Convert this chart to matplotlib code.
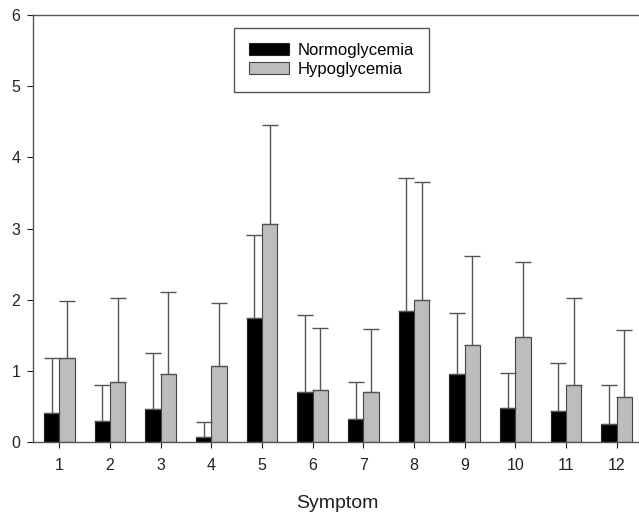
import matplotlib
matplotlib.use('Agg')
import matplotlib.pyplot as plt
import numpy as np

plt.rcParams['font.family'] = ['Liberation Sans', 'DejaVu Sans']

# data
symptoms = [1, 2, 3, 4, 5, 6, 7, 8, 9, 10, 11, 12]
normo = [0.41, 0.30, 0.47, 0.07, 1.74, 0.70, 0.33, 1.85, 0.96, 0.48, 0.44, 0.26]
normo_err = [0.77, 0.50, 0.78, 0.22, 1.17, 1.09, 0.52, 1.86, 0.86, 0.50, 0.68, 0.54]
hypo = [1.18, 0.84, 0.96, 1.07, 3.06, 0.74, 0.70, 2.00, 1.36, 1.48, 0.81, 0.63]
hypo_err = [0.81, 1.18, 1.15, 0.88, 1.39, 0.87, 0.89, 1.65, 1.26, 1.05, 1.22, 0.94]

x = np.array(symptoms)
w = 0.3

fig = plt.figure(figsize=(6.39, 5.13), dpi=100)
ax = fig.add_axes([33/639, 1 - 442.3/513, 609/639, 427.3/513])

ekw = dict(ecolor='#555555', elinewidth=1, capsize=6, capthick=1)
ax.bar(x - w/2, normo, w, color='black', edgecolor='#222222', linewidth=0.8,
       yerr=[np.zeros(len(x)), normo_err], error_kw=ekw, label='Normoglycemia', zorder=2)
ax.bar(x + w/2, hypo, w, color='#bdbdbd', edgecolor='#444444', linewidth=0.8,
       yerr=[np.zeros(len(x)), hypo_err], error_kw=ekw, label='Hypoglycemia', zorder=2)

ax.set_xlim(0.48, 12.5)
ax.set_ylim(0, 6)
ax.set_xticks(x)
ax.set_yticks(range(7))
ax.tick_params(labelsize=11.5, colors='#222222', length=4, width=0.8, direction='out')
ax.tick_params(axis='x', pad=7)
ax.tick_params(axis='y', pad=5)
for s in ax.spines.values():
    s.set_color('#555555')
    s.set_linewidth(1)
ax.spines['right'].set_visible(False)

ax.set_xlabel('Symptom', fontsize=14, color='#222222', labelpad=16)

leg = ax.legend(loc='upper left', bbox_to_anchor=(0.33, 0.97), borderaxespad=0,
                fontsize=12, fancybox=False, edgecolor='#555555', framealpha=1,
                handlelength=2.4, handleheight=0.7, handletextpad=0.5,
                labelspacing=0.25, borderpad=0.9)
leg.get_frame().set_linewidth(1)

plt.savefig('out.png', dpi=100)
